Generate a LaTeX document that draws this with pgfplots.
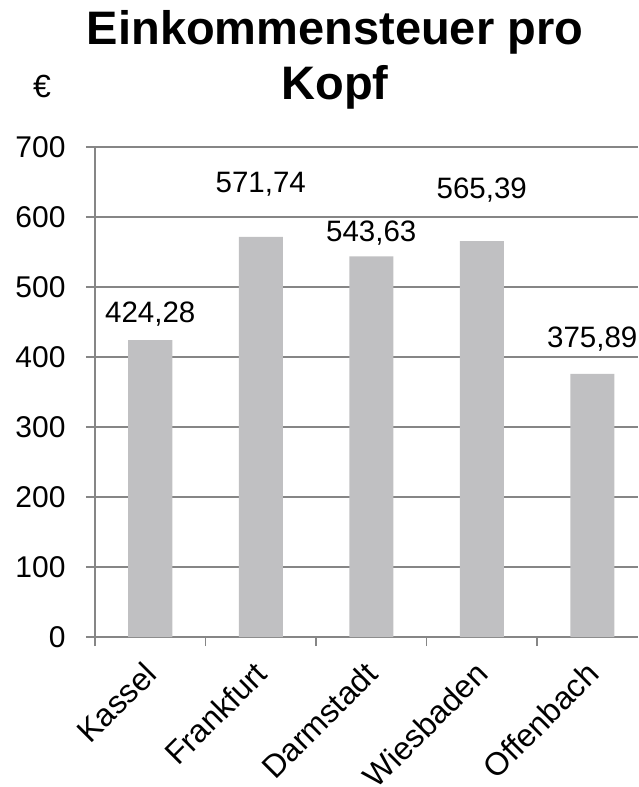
\documentclass[border=0pt]{standalone}
\usepackage{fontspec}
\setmainfont{Liberation Sans}
\usepackage{pgfplots}
\usepackage{pgfplotstable}
\pgfplotsset{compat=1.18}
\definecolor{bargray}{RGB}{192,192,194}
\definecolor{gridgray}{RGB}{134,134,134}
\pgfplotstableread{
x y ly lab
0 424.28 448.6 {424,28}
1 571.74 634.3 {571,74}
2 543.63 565.7 {543,63}
3 565.39 627.1 {565,39}
4 375.89 412.9 {375,89}
}\datatable
\begin{document}
\begin{tikzpicture}
\useasboundingbox (-95pt,-150pt) rectangle (543pt,637pt);
\begin{axis}[
  at={(0pt,0pt)}, anchor=south west,
  scale only axis, width=543pt, height=490pt,
  xmin=-0.5, xmax=4.414, ymin=0, ymax=700,
  axis lines*=left,
  axis line style={gridgray, line width=1.2pt},
  ymajorgrids, grid style={gridgray, line width=1.2pt},
  ytick={0,100,...,700},
  xtick={0,...,4},
  xticklabels={Kassel,Frankfurt,Darmstadt,Wiesbaden,Offenbach},
  minor xtick={-0.5,0.5,...,3.5},
  tick align=outside, major tick length=9pt, minor tick length=9pt,
  tick style={gridgray, line width=1.2pt},
  major x tick style={draw=none},
  ticklabel style={font=\fontsize{30}{36}\selectfont},
  /pgf/number format/assume math mode=true,
  yticklabel style={xshift=-17pt},
  xticklabel style={xshift=-8pt, yshift=-9pt, rotate=45, anchor=north east, font=\fontsize{32}{38}\selectfont},
  clip=false,
]
\addplot[ybar, bar width=44pt, fill=bargray, draw=none] table[x=x,y=y]{\datatable};
\addplot[draw=none, mark=*, mark size=0pt, nodes near coords, point meta=explicit symbolic,
  nodes near coords align={anchor=base},
  nodes near coords style={anchor=base, text=black, font=\fontsize{29.5}{35}\selectfont}]
  table[x=x,y=ly,meta=lab]{\datatable};
\end{axis}
\node[font=\fontsize{32}{38}\selectfont] at (-53pt,551pt) {€};
\node[font=\bfseries\fontsize{47}{55}\selectfont, anchor=base] at (240pt,592pt) {Einkommensteuer pro};
\node[font=\bfseries\fontsize{47}{55}\selectfont, anchor=base] at (240pt,537pt) {Kopf};
\end{tikzpicture}
\end{document}
